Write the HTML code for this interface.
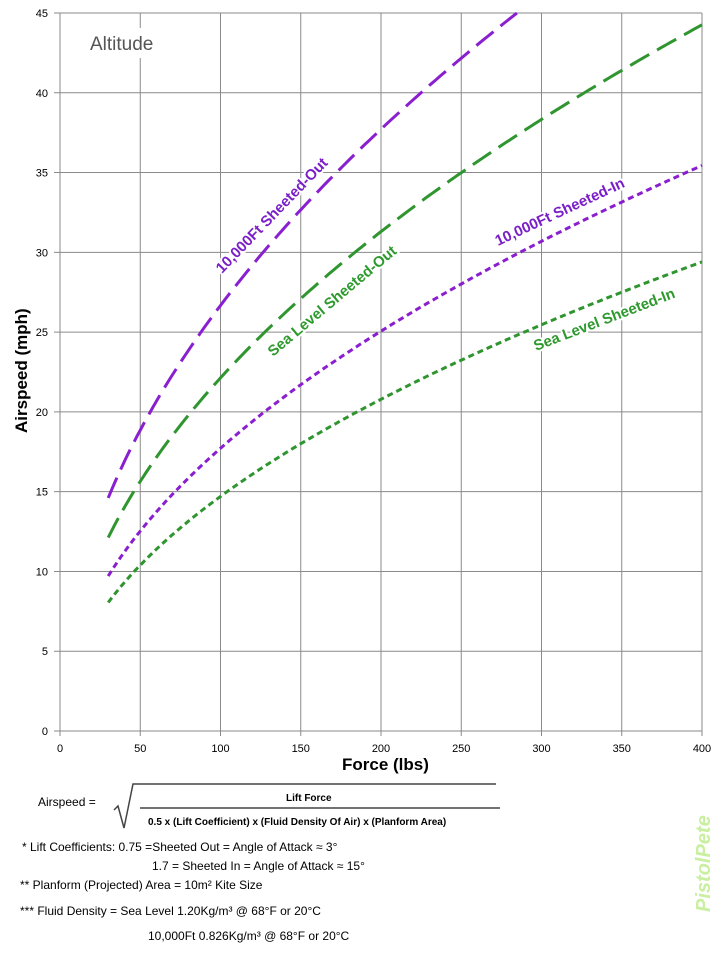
<!DOCTYPE html>
<html><head><meta charset="utf-8"><style>
body{margin:0;background:#fff;width:720px;height:960px;overflow:hidden;font-family:"Liberation Sans",sans-serif;}
svg text{font-family:"Liberation Sans",sans-serif;}
</style></head><body>
<svg id="s" width="720" height="960" xmlns="http://www.w3.org/2000/svg">
<g id="grid" stroke="#8a8a8a" stroke-width="1"></g>
<g id="ticks" font-size="11" fill="#000"></g>
<rect x="84" y="28" width="90" height="30" fill="#fff"/>
<text x="90" y="50" font-size="19" fill="#555">Altitude</text>
<g id="curves" fill="none" stroke-width="3"></g>
<g font-weight="bold" font-size="15">
<text transform="translate(222,274) rotate(-46)" fill="#7a1fc8" stroke="#fff" stroke-width="4" paint-order="stroke">10,000Ft Sheeted-Out</text>
<text transform="translate(273,357) rotate(-40)" fill="#2e9a2e" stroke="#fff" stroke-width="4" paint-order="stroke">Sea Level Sheeted-Out</text>
<text transform="translate(498,246) rotate(-25)" fill="#7a1fc8" stroke="#fff" stroke-width="4" paint-order="stroke">10,000Ft Sheeted-In</text>
<text transform="translate(536,351) rotate(-21)" fill="#2e9a2e" stroke="#fff" stroke-width="4" paint-order="stroke">Sea Level Sheeted-In</text>
</g>
<text x="342" y="770" font-size="17" font-weight="bold">Force (lbs)</text>
<text transform="translate(27,433) rotate(-90)" font-size="17" font-weight="bold">Airspeed  (mph)</text>
<g font-size="12">
<text x="38" y="806">Airspeed =</text>
<polyline points="114,810 118,806 124,828 133,784 496,784" fill="none" stroke="#444" stroke-width="1.5"/>
<line x1="140" y1="808" x2="500" y2="808" stroke="#444" stroke-width="1.5"/>
<text x="286" y="801" font-size="10" font-weight="bold">Lift Force</text>
<text x="148" y="825" font-size="10" font-weight="bold">0.5 x (Lift Coefficient) x (Fluid  Density Of Air) x (Planform  Area)</text>
<text x="22" y="851">* Lift Coefficients:  0.75 =Sheeted Out = Angle of Attack ≈ 3°</text>
<text x="152" y="870">1.7 =  Sheeted In   = Angle of Attack ≈ 15°</text>
<text x="20" y="889">** Planform (Projected) Area = 10m² Kite Size</text>
<text x="20" y="915">*** Fluid Density = Sea Level  1.20Kg/m³  @ 68°F or 20°C</text>
<text x="148" y="940">10,000Ft  0.826Kg/m³  @ 68°F or 20°C</text>
</g>
<text transform="translate(710,912) rotate(-90)" font-size="20" font-weight="bold" font-style="italic" fill="#c8f0a0" font-family="Liberation Serif">PistolPete</text>
</svg>
<script>
var NS="http://www.w3.org/2000/svg";
function X(f){return 60+f*(642/400);}function Y(v){return 731-v*(718/45);}
var g=document.getElementById('grid'),t=document.getElementById('ticks'),c=document.getElementById('curves');
function el(p,n,a,txt){var e=document.createElementNS(NS,n);for(var k in a)e.setAttribute(k,a[k]);if(txt!=null)e.textContent=txt;p.appendChild(e);return e;}
for(var v=0;v<=45;v+=5){var y=Y(v);el(g,'line',{x1:54,x2:702,y1:y,y2:y});el(t,'text',{x:48,y:y+4,'text-anchor':'end'},v);}
for(var f=0;f<=400;f+=50){var x=X(f);el(g,'line',{x1:x,x2:x,y1:Y(45),y2:736});el(t,'text',{x:x,y:752,'text-anchor':'middle'},f);}
var s=[[2.667,'#8a1fd0','22,9'],[2.213,'#2f952f','22,9'],[1.772,'#8a1fd0','6,4'],[1.47,'#2f952f','6,4']];
s.forEach(function(q){var pts=[];for(var f=30;f<=400;f+=2){var v=q[0]*Math.sqrt(f);if(v>45){pts.push(X(Math.pow(45/q[0],2)).toFixed(1)+','+Y(45).toFixed(1));break;}pts.push(X(f).toFixed(1)+','+Y(v).toFixed(1));}
el(c,'polyline',{points:pts.join(' '),stroke:q[1],'stroke-dasharray':q[2]});});
</script>
</body></html>
